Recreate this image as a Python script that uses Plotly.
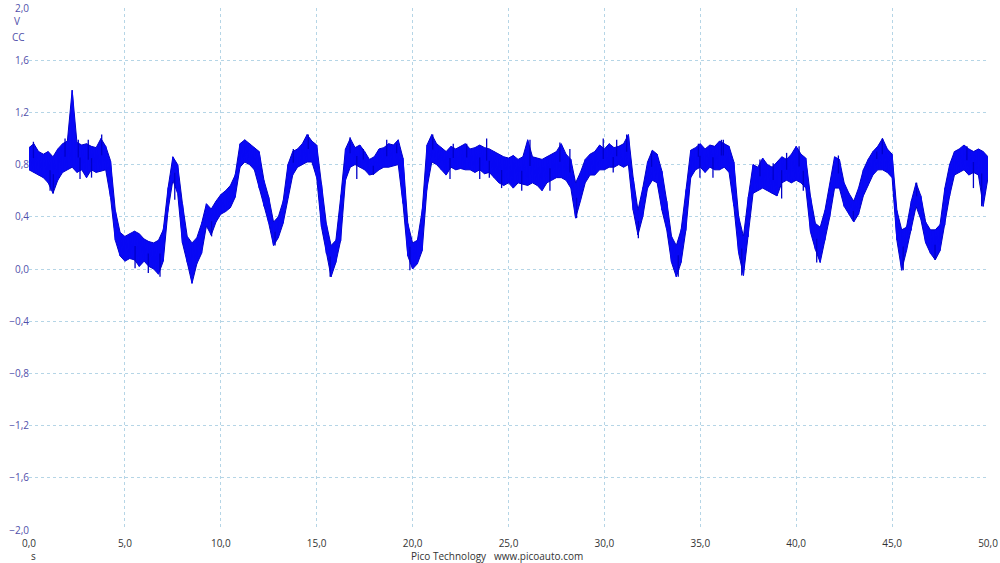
import numpy as np
import plotly.graph_objects as go

# time grid (s), sampled every 0.25 s from 0 to 50
t = np.arange(0, 50.001, 0.25)

# upper envelope of the noisy trace (V)
upper = [
    0.93,0.96,0.90,0.88,0.90,0.86,0.92,0.96,0.98,1.37,0.97,0.95,0.96,0.94,0.93,1.00,0.94,0.83,0.45,0.28,
    0.25,0.27,0.29,0.27,0.23,0.21,0.20,0.22,0.30,0.62,0.86,0.80,0.50,0.25,0.20,0.24,0.35,0.50,0.46,0.52,
    0.57,0.60,0.64,0.72,0.96,0.99,0.96,0.93,0.90,0.68,0.55,0.36,0.40,0.52,0.80,0.90,0.92,0.96,1.03,0.98,
    0.95,0.65,0.35,0.18,0.22,0.55,0.92,1.00,0.93,0.95,0.90,0.84,0.86,0.92,0.93,0.96,0.95,0.99,0.85,0.35,
    0.20,0.22,0.45,0.95,1.03,0.96,0.93,0.90,0.94,0.92,0.94,0.96,0.92,0.93,0.95,0.93,0.92,0.90,0.88,0.86,
    0.85,0.87,0.84,0.86,0.99,0.86,0.85,0.84,0.86,0.88,0.90,0.96,0.88,0.84,0.66,0.74,0.84,0.88,0.90,0.95,
    0.92,0.96,0.93,0.94,0.96,1.03,0.70,0.45,0.62,0.82,0.91,0.88,0.75,0.52,0.25,0.18,0.30,0.60,0.91,0.93,
    0.96,0.92,0.95,0.94,0.98,0.96,0.94,0.82,0.40,0.25,0.55,0.80,0.78,0.85,0.80,0.78,0.82,0.86,0.84,0.88,
    0.94,0.88,0.85,0.55,0.35,0.32,0.45,0.65,0.86,0.84,0.66,0.58,0.52,0.62,0.76,0.84,0.90,0.94,1.00,0.92,
    0.88,0.45,0.30,0.32,0.52,0.66,0.56,0.36,0.30,0.30,0.34,0.62,0.80,0.90,0.92,0.95,0.92,0.90,0.92,0.90,
    0.86,
]

# lower envelope of the noisy trace (V)
lower = [
    0.76,0.74,0.72,0.70,0.66,0.58,0.68,0.74,0.76,0.78,0.74,0.76,0.70,0.76,0.74,0.75,0.76,0.55,0.22,0.10,
    0.06,0.08,0.07,0.02,0.06,0.02,0.00,-0.04,0.06,0.45,0.68,0.58,0.20,0.05,-0.11,0.04,0.12,0.33,0.26,0.36,
    0.42,0.44,0.47,0.55,0.78,0.82,0.80,0.76,0.62,0.48,0.35,0.18,0.24,0.35,0.55,0.72,0.78,0.80,0.82,0.82,
    0.70,0.32,0.12,-0.06,0.05,0.22,0.68,0.78,0.80,0.78,0.76,0.72,0.73,0.76,0.78,0.78,0.79,0.80,0.50,0.10,
    0.00,0.04,0.14,0.62,0.82,0.80,0.76,0.72,0.78,0.76,0.77,0.76,0.76,0.74,0.76,0.73,0.74,0.70,0.66,0.64,
    0.66,0.62,0.66,0.65,0.64,0.66,0.64,0.60,0.66,0.68,0.70,0.70,0.68,0.62,0.39,0.52,0.66,0.72,0.72,0.76,
    0.76,0.78,0.78,0.80,0.78,0.80,0.45,0.26,0.40,0.62,0.68,0.66,0.45,0.30,0.05,-0.06,0.05,0.30,0.70,0.76,
    0.78,0.74,0.78,0.76,0.76,0.78,0.74,0.48,0.12,-0.05,0.25,0.58,0.60,0.62,0.60,0.58,0.56,0.66,0.68,0.66,
    0.68,0.66,0.62,0.28,0.15,0.05,0.22,0.40,0.62,0.62,0.48,0.42,0.36,0.42,0.56,0.64,0.72,0.76,0.76,0.74,
    0.70,0.22,-0.01,0.14,0.30,0.48,0.38,0.20,0.12,0.07,0.14,0.34,0.56,0.72,0.74,0.76,0.72,0.74,0.72,0.48,
    0.70,
]

# individual noise spikes: time (s) and tip value (V)
spike_t = [
    0.23, 1.88, 2.57, 3.09, 3.79, 1.10, 1.27, 2.66, 3.26, 5.53, 6.22, 6.83, 7.60, 9.52,
    13.78, 14.56, 16.74, 17.43, 18.65, 19.17, 21.05, 22.12, 22.82, 23.86, 12.83, 15.70,
    19.86, 17.09, 17.95, 21.95, 23.50, 24.00,
    26.12, 27.68, 28.20, 29.94, 30.64, 31.16, 32.46, 34.90, 36.10, 24.64, 25.69, 27.16,
    28.55, 31.77, 33.85, 30.46, 34.98, 35.66,
    36.20, 38.11, 38.80, 39.50, 40.15, 42.20, 44.20, 44.49, 46.28, 48.90, 37.16, 39.24,
    41.07, 42.98, 45.58, 47.24, 49.67, 49.24, 40.37,
]
spike_v = [
    0.975, 1.00, 0.99, 0.99, 1.03, 0.60, 0.58, 0.69, 0.70, 0.005, -0.03, -0.06, 0.53, 0.25,
    0.92, 1.03, 1.01, 0.92, 0.99, 0.96, 1.03, 0.96, 0.96, 1.00, 0.18, -0.06,
    -0.01, 0.69, 0.72, 0.69, 0.69, 0.70,
    0.99, 0.97, 0.92, 1.00, 0.99, 1.03, 0.90, 0.96, 0.99, 0.62, 0.60, 0.60,
    0.39, 0.235, -0.06, 0.74, 0.70, 0.70,
    0.99, 0.84, 0.81, 0.89, 0.94, 0.87, 0.90, 1.00, 0.66, 0.94, -0.05, 0.54,
    0.05, 0.37, -0.01, 0.07, 0.48, 0.62, 0.60,
]

fill_color = "rgb(8,8,245)"
edge_color = "rgb(0,0,200)"
grid_color = "#b5d5e6"
ylab_color = "#5050aa"
xlab_color = "#333333"

# peak-detect style trace: vertical stroke from lower to upper at each sample
zx = np.repeat(t, 2)
zy = np.empty(2 * len(t))
zy[0::2] = lower
zy[1::2] = upper

# spikes drawn as thin strokes from the band centre to the spike tip
mid = (np.array(upper) + np.array(lower)) / 2
sx, sy = [], []
for ts, vs in zip(spike_t, spike_v):
    sx += [ts, ts, None]
    sy += [float(np.interp(ts, t, mid)), vs, None]

fig = go.Figure()
fig.add_trace(go.Scatter(x=t, y=lower, mode="lines", line=dict(color=edge_color, width=1),
                         hoverinfo="skip", showlegend=False))
fig.add_trace(go.Scatter(x=t, y=upper, mode="lines", line=dict(color=edge_color, width=1),
                         fill="tonexty", fillcolor=fill_color, hoverinfo="skip", showlegend=False))
fig.add_trace(go.Scatter(x=zx, y=zy, mode="lines", line=dict(color=fill_color, width=1.2),
                         showlegend=False))
fig.add_trace(go.Scatter(x=sx, y=sy, mode="lines", line=dict(color=edge_color, width=1.3),
                         hoverinfo="skip", showlegend=False))

fig.update_layout(
    width=1000, height=563, autosize=False,
    margin=dict(l=29, r=12, t=8, b=33, pad=0),
    paper_bgcolor="white", plot_bgcolor="white",
    separators=",.",
    font=dict(family="Open Sans, DejaVu Sans, sans-serif", size=10, color=xlab_color),
    xaxis=dict(range=[0, 50], tick0=0, dtick=5, tickformat=".1f", automargin=False,
               showgrid=True, gridcolor=grid_color, griddash="3px,3px", gridwidth=1,
               zeroline=False, showline=False, ticks="", ticklen=0, ticklabelstandoff=6,
               tickfont=dict(size=10, color=xlab_color)),
    yaxis=dict(range=[-2, 2], tick0=-2, dtick=0.4, tickformat=".1f", automargin=False,
               showgrid=True, gridcolor=grid_color, griddash="3px,3px", gridwidth=1,
               zeroline=False, showline=False, ticks="", ticklen=0, ticklabelstandoff=-1,
               tickfont=dict(size=10, color=ylab_color)),
    annotations=[
        dict(text="V", xref="paper", yref="paper", x=-0.013, y=(530 - 21) / 522,
             showarrow=False, xanchor="center", yanchor="middle",
             font=dict(size=10, color=ylab_color)),
        dict(text="CC", xref="paper", yref="paper", x=-0.011, y=(530 - 37) / 522,
             showarrow=False, xanchor="center", yanchor="middle",
             font=dict(size=10, color=ylab_color)),
        dict(text="s", xref="paper", yref="paper", x=(33 - 29) / 959, y=(530 - 556) / 522,
             showarrow=False, xanchor="center", yanchor="middle",
             font=dict(size=10, color=xlab_color)),
        dict(text="Pico Technology   www.picoauto.com", xref="paper", yref="paper",
             x=(497 - 29) / 959, y=(530 - 556) / 522,
             showarrow=False, xanchor="center", yanchor="middle",
             font=dict(size=10, color=xlab_color)),
    ],
)

fig.write_html("out.html", config={"displayModeBar": False},
               post_script="document.body.style.margin='0';document.body.style.overflow='hidden';")
